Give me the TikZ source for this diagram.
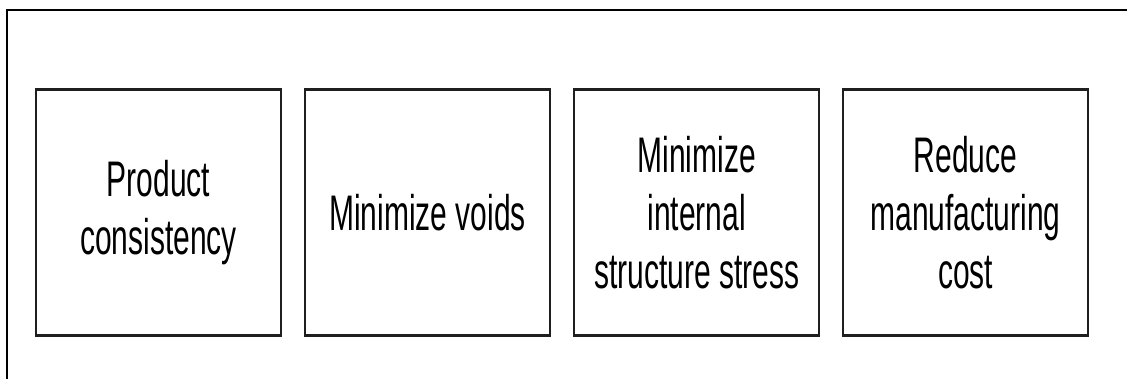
\documentclass[tikz,border=0pt]{standalone}
\usepackage{fontspec}
\newfontfamily\goalfont[FakeStretch=0.6]{Liberation Sans}
\usetikzlibrary{positioning}
\tikzset{
  goal/.style={draw=black!88,line width=2.3pt,minimum width=245pt,minimum height=246pt,
    inner sep=0pt,align=center,font=\goalfont\fontsize{50}{58}\selectfont}
}
\begin{document}
\begin{tikzpicture}[x=1pt,y=-1pt]
 \useasboundingbox (0,0) rectangle (1127,379);
 \clip (0,0) rectangle (1127,379);
 % outer frame runs past the right and bottom edges
 \draw[line width=1.7pt] (6.8,10.3) rectangle (1140,395);
 \node[goal] (consistency) at (158.6,212.4) {Product\\consistency};
 \node[goal,right=21.7pt of consistency] (voids) {Minimize voids};
 \node[goal,right=21.7pt of voids] (stress) {Minimize\\internal\\structure stress};
 \node[goal,right=21.7pt of stress] (cost) {Reduce\\manufacturing\\cost};
\end{tikzpicture}
\end{document}
